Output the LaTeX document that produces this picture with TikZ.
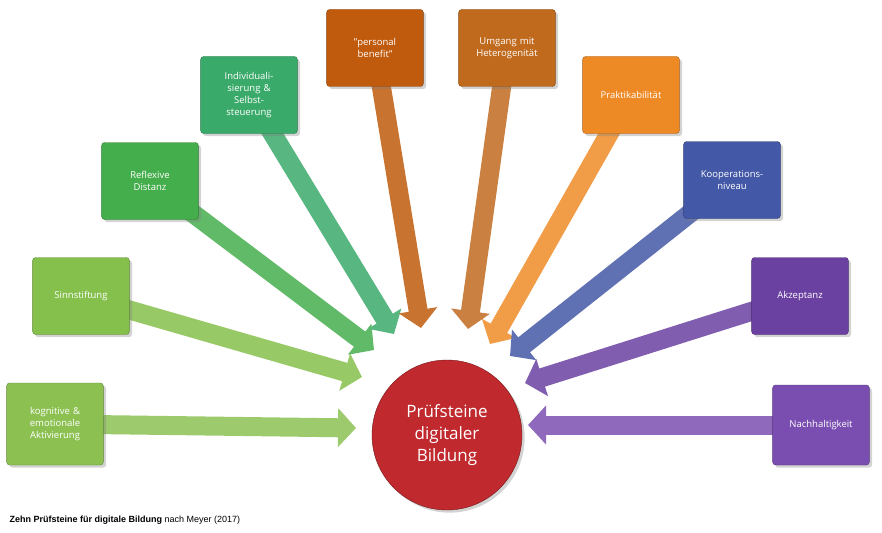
\documentclass[tikz,border=0pt]{standalone}
\usepackage{fontspec}
\setmainfont{Open Sans}
\newfontfamily\capfont{Liberation Sans}
\usetikzlibrary{arrows.meta,shadows}
\begin{document}
\begin{tikzpicture}[x=1pt,y=-1pt,
  box/.style={draw=#1!70!black,fill=#1,rounded corners=3pt,minimum width=95pt,minimum height=77pt,
    text=white,font=\fontsize{9.5}{12}\selectfont,align=center,text width=90pt,drop shadow={opacity=0.35}},
  arr/.style={draw=#1!85!white,line width=19pt,-{Triangle[width=38pt,length=18pt]},shorten <=20pt}]
\useasboundingbox (0,0) rectangle (882,532);
\definecolor{cA}{HTML}{8CC152}\definecolor{cB}{HTML}{86C04C}\definecolor{cC}{HTML}{45AE4C}
\definecolor{cD}{HTML}{3AAA6A}\definecolor{cE}{HTML}{C05A0C}\definecolor{cF}{HTML}{C06A1E}
\definecolor{cG}{HTML}{EE8A26}\definecolor{cH}{HTML}{4358A6}\definecolor{cI}{HTML}{6A40A0}
\definecolor{cJ}{HTML}{7A4EB0}\definecolor{cR}{HTML}{C02A2E}
\coordinate (e1) at (356,428);\coordinate (e2) at (362,377);\coordinate (e3) at (374,350);
\coordinate (e4) at (394,334);\coordinate (e5) at (421,328);\coordinate (e6) at (468,329);
\coordinate (e7) at (490,344);\coordinate (e8) at (510,356);\coordinate (e9) at (525,383);
\coordinate (e10) at (528,425);
\coordinate (p1) at (55,424);\coordinate (p2) at (81,296);\coordinate (p3) at (150,181);
\coordinate (p4) at (249,95);\coordinate (p5) at (375,48);\coordinate (p6) at (507,48);
\coordinate (p7) at (631,95);\coordinate (p8) at (732,180);\coordinate (p9) at (800,296);
\coordinate (p10) at (821,425);
\foreach \i/\c in {1/cA,2/cB,3/cC,4/cD,5/cE,6/cF,7/cG,8/cH,9/cI,10/cJ}
  \draw[arr=\c] (p\i) -- (e\i);
\node[box=cA,minimum width=94pt,minimum height=82pt] (b1) at (p1) {kognitive \&\\emotionale\\Aktivierung};
\node[box=cB] (b2) at (p2) {Sinnstiftung};
\node[box=cC] (b3) at (p3) {Reflexive\\Distanz};
\node[box=cD] (b4) at (p4) {Individuali-\\sierung \&\\Selbst-\\steuerung};
\node[box=cE] (b5) at (p5) {"personal\\benefit"};
\node[box=cF,minimum width=92pt] (b6) at (p6) {Umgang mit\\Heterogenität};
\node[box=cG] (b7) at (p7) {Praktikabilität};
\node[box=cH] (b8) at (p8) {Kooperations-\\niveau};
\node[box=cI] (b9) at (p9) {Akzeptanz};
\node[box=cJ,minimum width=92pt,minimum height=80pt] (b10) at (p10) {Nachhaltigkeit};
\node[circle,draw=cR!60!black,fill=cR,minimum size=150pt,text=white,align=center,
  font=\fontsize{17}{22}\selectfont,drop shadow={opacity=0.35}] (c) at (447,435) {Prüfsteine\\digitaler\\Bildung};
\node[anchor=west,font=\capfont\fontsize{9}{11}\selectfont] (cap) at (6,520) {\textbf{Zehn Prüfsteine für digitale Bildung} nach Meyer (2017)};
\end{tikzpicture}
\end{document}
